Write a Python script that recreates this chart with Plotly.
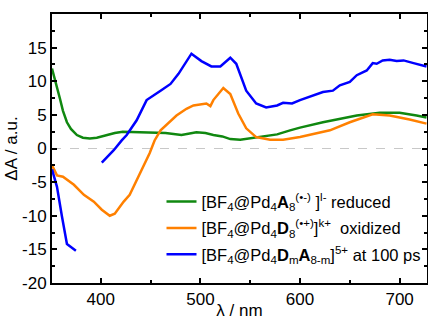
import plotly.graph_objects as go

# Wavelengths (nm) and ΔA values
red_x = [351, 355, 359, 362, 366, 370, 376, 382, 389, 396, 406, 414, 422, 436, 449, 465, 481, 496, 505, 513, 522, 530, 540, 557, 577, 590, 600, 623, 640, 657, 680, 700, 717, 727]
red_y = [11.9, 9.8, 7.4, 5.6, 3.9, 2.9, 2.0, 1.6, 1.5, 1.6, 2.0, 2.3, 2.5, 2.4, 2.35, 2.3, 2.0, 2.4, 2.3, 2.0, 1.8, 1.4, 1.3, 1.7, 2.1, 2.7, 3.1, 3.9, 4.4, 4.9, 5.3, 5.3, 4.9, 4.6]

ox_x = [351, 356, 362, 373, 383, 393, 401, 409, 414, 423, 429, 439, 449, 454, 460, 476, 486, 493, 506, 510, 513, 523, 530, 538, 546, 556, 570, 583, 600, 630, 650, 673, 690, 710, 727]
ox_y = [-2.5, -4.0, -4.2, -5.4, -6.9, -7.9, -9.1, -10.0, -9.7, -7.9, -6.9, -3.7, -0.7, 1.2, 2.7, 4.9, 5.9, 6.4, 6.7, 6.3, 7.2, 9.0, 8.1, 5.2, 3.0, 1.7, 1.3, 1.3, 1.7, 2.7, 3.9, 5.1, 4.9, 4.3, 3.7]

ps_x = [351, 356, 361, 366, 375, None, 401, 413, 421, 426, 436, 446, 460, 470, 478, 491, 501, 511, 520, 530, 536, 546, 556, 566, 577, 583, 592, 600, 623, 633, 640, 650, 657, 667, 673, 677, 683, 690, 697, 704, 714, 727]
ps_y = [-3.1, -5.7, -10.1, -14.2, -15.2, None, -2.1, -0.25, 1.2, 2.0, 4.2, 7.2, 8.6, 9.6, 11.1, 14.1, 13.0, 12.2, 12.2, 13.5, 12.6, 8.6, 6.7, 6.1, 6.4, 6.8, 6.7, 7.2, 8.4, 8.6, 9.4, 9.9, 10.9, 11.6, 12.7, 12.6, 13.1, 13.2, 13.0, 13.1, 12.7, 12.2]

names = [
    "[BF<sub>4</sub>@Pd<sub>4</sub><b>A</b><sub>8</sub><sup>(•-)</sup> ]<sup>l-</sup> reduced",
    "[BF<sub>4</sub>@Pd<sub>4</sub><b>D</b><sub>8</sub><sup>(•+)</sup>]<sup>k+</sup>  oxidized",
    "[BF<sub>4</sub>@Pd<sub>4</sub><b>D</b><sub>m</sub><b>A</b><sub>8-m</sub>]<sup>5+</sup> at 100 ps",
]
colors = ["#108810", "#ff8000", "#0000ff"]

xticks = [400, 500, 600, 700]
yticks = [-20, -15, -10, -5, 0, 5, 10, 15]

fig = go.Figure()
for i, (xs, ys, nm, c) in enumerate([(red_x, red_y, names[0], colors[0]),
                                     (ox_x, ox_y, names[1], colors[1]),
                                     (ps_x, ps_y, names[2], colors[2])]):
    fig.add_trace(go.Scatter(x=xs, y=ys, mode="lines", name=nm, legendgroup=f"g{i}",
                             line=dict(color=c, width=2.5), connectgaps=False))

fig.add_shape(type="line", xref="paper", x0=0, x1=1, yref="y", y0=0, y1=0,
              line=dict(color="#c8c8c8", width=1.2, dash="dash"), layer="below")

axis_common = dict(showline=True, linecolor="black", linewidth=2, mirror="ticks",
                   ticks="inside", ticklen=5, tickwidth=1.5, tickcolor="black",
                   showgrid=False, zeroline=False, automargin=False,
                   tickfont=dict(size=17, color="black"))

fig.update_layout(
    width=428, height=320,
    margin=dict(l=52, r=1, t=14, b=37),
    plot_bgcolor="white", paper_bgcolor="white",
    font=dict(family="Liberation Sans, Arial, sans-serif", color="black"),
    xaxis=dict(range=[351, 727.5], tickvals=xticks, ticktext=[str(v) for v in xticks],
               minor=dict(ticks="inside", dtick=50, tick0=350, ticklen=3, tickcolor="black", showgrid=False),
               title=dict(text="λ / nm", font=dict(size=17), standoff=2),
               **axis_common),
    yaxis=dict(range=[-20, 20], tickvals=yticks, ticktext=[str(v) for v in yticks],
               minor=dict(ticks="inside", dtick=2.5, tick0=0, ticklen=3, tickcolor="black", showgrid=False),
               title=dict(text="ΔA / a.u.", font=dict(size=17), standoff=0),
               **axis_common),
    legend=dict(x=0.292, y=0.04, xanchor="left", yanchor="bottom",
                bgcolor="rgba(0,0,0,0)", font=dict(size=16.5), tracegroupgap=2),
    showlegend=True,
)

fig.write_html("out.html", config={"displayModeBar": False},
               post_script="document.body.style.margin='0';")
